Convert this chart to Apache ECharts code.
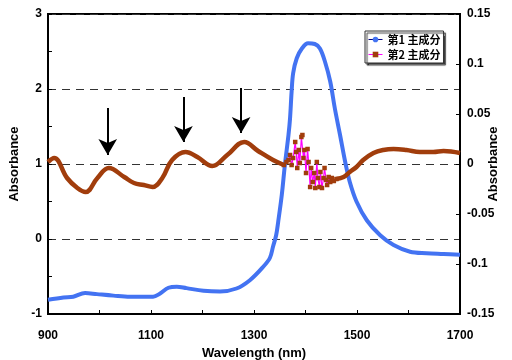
<!DOCTYPE html>
<html>
<head>
<meta charset="utf-8">
<script src="https://cdn.jsdelivr.net/npm/echarts@6/dist/echarts.min.js"></script>
<style>
html,body{margin:0;padding:0;background:#fff;}
#c{width:512px;height:360px;}
</style>
</head>
<body>
<div id="c"></div>
<script>
// ---- data ----
const wl1 = [900, 930, 949, 972, 995, 1027, 1059, 1104, 1117, 1134, 1150, 1169, 1202, 1234, 1266, 1292, 1318, 1331, 1337, 1343, 1347, 1354, 1360, 1367, 1370, 1373, 1376, 1383, 1393, 1405, 1418, 1428, 1438, 1448, 1457, 1467, 1477, 1486, 1499, 1519, 1545, 1571, 1603, 1635, 1668, 1700];
const pc1 = [-0.81, -0.78, -0.77, -0.72, -0.735, -0.755, -0.77, -0.77, -0.73, -0.65, -0.635, -0.655, -0.69, -0.70, -0.66, -0.55, -0.37, -0.25, -0.10, 0.05, 0.23, 0.59, 0.99, 1.39, 1.61, 1.96, 2.21, 2.41, 2.54, 2.61, 2.60, 2.54, 2.36, 2.10, 1.74, 1.39, 1.03, 0.76, 0.50, 0.25, 0.05, -0.08, -0.17, -0.19, -0.20, -0.21];

const wl2Left = [900, 912, 937, 957, 973, 996, 1018, 1048, 1067, 1086, 1103, 1122, 1141, 1167, 1190, 1219, 1248, 1281, 1308, 1337, 1358];
const pc2Left = [0.002, 0.006, -0.014, -0.024, -0.028, -0.014, -0.004, -0.013, -0.019, -0.021, -0.023, -0.014, 0.004, 0.012, 0.007, -0.002, 0.009, 0.022, 0.013, 0.004, -0.001];

const wl2Noise = [1358, 1363, 1367, 1370, 1373, 1376, 1380, 1382, 1384, 1387, 1389, 1392, 1394, 1396, 1398, 1401, 1404, 1406, 1409, 1411, 1414, 1417, 1419, 1422, 1424, 1427, 1429, 1432, 1435, 1437, 1440, 1442, 1445, 1448, 1451, 1455, 1460];
const pc2Noise = [-0.001, 0.002, 0.004, 0.009, -0.001, 0.006, 0.022, 0.012, -0.004, 0.014, 0.001, 0.027, 0.029, 0.006, 0.014, -0.009, 0.015, 0.002, -0.023, -0.004, -0.018, -0.009, -0.024, 0.002, -0.014, -0.023, -0.008, -0.024, -0.014, -0.004, -0.016, -0.021, -0.013, -0.018, -0.014, -0.017, -0.015];

const wl2Right = [1460, 1474, 1486, 1499, 1512, 1532, 1551, 1571, 1596, 1622, 1648, 1668, 1700];
const pc2Right = [-0.015, -0.013, -0.008, -0.003, 0.004, 0.011, 0.014, 0.015, 0.014, 0.012, 0.012, 0.013, 0.011];

const xTickLabels = [900, 1100, 1300, 1500, 1700];
const rightTickLabels = ['-0.15', '-0.1', '-0.05', '0', '0.05', '0.1', '0.15'];
const yAxisTitle = 'Absorbance';

// annotation arrows (wavelength, start value, tip value on right axis)
const arrowWl = [1016, 1163, 1275];
const arrowTop = [0.056, 0.067, 0.076];
const arrowTip = [0.009, 0.022, 0.031];

const seriesNames = ['第1 主成分', '第2 主成分'];

const zip = (a, b) => a.map((v, i) => [v, b[i]]);

const FONT = '"Liberation Sans", Arial, sans-serif';
const BLUE = '#4373F2';
const BROWN = '#A13D0C';

const chart = echarts.init(document.getElementById('c'), null, {renderer: 'canvas'});
chart.setOption({
  animation: false,
  backgroundColor: '#fff',
  grid: {left: 48, right: 52, top: 14, bottom: 46, outerBoundsMode: 'none', containLabel: false,
         show: true, borderColor: '#000', borderWidth: 2, backgroundColor: 'transparent'},
  graphic: [{
    type: 'text', x: 493, y: 164, rotation: Math.PI / 2,
    style: {text: yAxisTitle, fill: '#000', font: 'bold 13px "Liberation Sans", Arial, sans-serif',
            textAlign: 'center', textVerticalAlign: 'middle'}
  }],
  legend: {
    orient: 'vertical', left: 365, top: 31,
    padding: [3, 3, 3, 3], itemGap: 4, itemWidth: 14, itemHeight: 7,
    backgroundColor: '#fff', borderColor: '#333', borderWidth: 1,
    shadowColor: 'rgba(0,0,0,0.75)', shadowBlur: 1, shadowOffsetX: 2, shadowOffsetY: 2,
    textStyle: {fontSize: 11, fontWeight: 'bold', color: '#000', fontFamily: '"Noto Sans CJK SC", sans-serif'},
    data: [
      {name: seriesNames[0], itemStyle: {color: BLUE}, lineStyle: {color: '#000080', width: 1}},
      {name: seriesNames[1], itemStyle: {color: BROWN}, lineStyle: {color: '#FF00FF', width: 1}}
    ]
  },
  xAxis: {
    type: 'value', min: 900, max: 1700, interval: 100,
    name: 'Wavelength (nm)', nameLocation: 'middle', nameGap: 33,
    nameTextStyle: {fontSize: 13, fontWeight: 'bold', color: '#000', fontFamily: FONT},
    axisLine: {onZero: false, lineStyle: {color: '#000', width: 2}},
    axisTick: {inside: true, length: 4, lineStyle: {color: '#000', width: 1}},
    axisLabel: {
      fontSize: 12, fontWeight: 'bold', color: '#000', fontFamily: FONT, margin: 16,
      formatter: v => xTickLabels.includes(v) ? String(v) : ''
    },
    splitLine: {show: false}
  },
  yAxis: [
    {
      type: 'value', min: -1, max: 3, interval: 1, position: 'left',
      name: yAxisTitle, nameLocation: 'middle', nameGap: 25, nameRotate: 90,
      nameTextStyle: {fontSize: 13, fontWeight: 'bold', color: '#000', fontFamily: FONT},
      axisLine: {show: true, onZero: false, lineStyle: {color: '#000', width: 2}},
      axisTick: {show: true, inside: true, length: 4, lineStyle: {color: '#000'}},
      minorTick: {show: true, splitNumber: 2, length: 4, lineStyle: {color: '#000'}},
      axisLabel: {fontSize: 12, fontWeight: 'bold', color: '#000', fontFamily: FONT, margin: 6},
      splitLine: {show: true, lineStyle: {color: '#333', width: 1, type: [8, 6]}}
    },
    {
      type: 'value', min: -0.15, max: 0.15, interval: 0.05, position: 'right',
      axisLine: {show: true, onZero: false, lineStyle: {color: '#000', width: 2}},
      axisTick: {show: true, inside: true, length: 4, lineStyle: {color: '#000'}},
      axisLabel: {
        fontSize: 12, fontWeight: 'bold', color: '#000', fontFamily: FONT, margin: 7,
        formatter: v => rightTickLabels[Math.round((v + 0.15) / 0.05)]
      },
      splitLine: {show: false}
    }
  ],
  series: [
    {
      name: seriesNames[0], type: 'line', yAxisIndex: 0, smooth: 0.35,
      symbol: 'none', data: zip(wl1, pc1),
      lineStyle: {color: BLUE, width: 4}, itemStyle: {color: BLUE}, silent: true
    },
    {
      name: 'pc2-left', type: 'line', yAxisIndex: 1, smooth: 0.4,
      symbol: 'none', data: zip(wl2Left, pc2Left),
      lineStyle: {color: BROWN, width: 4.5}, silent: true,
      markLine: {
        silent: true, symbol: ['none', 'arrow'], symbolSize: [14, 16],
        label: {show: false},
        lineStyle: {color: '#000', width: 2, type: 'solid'},
        data: arrowWl.map((w, i) => [{coord: [w, arrowTop[i]]}, {coord: [w, arrowTip[i]]}])
      }
    },
    {
      name: 'pc2-right', type: 'line', yAxisIndex: 1, smooth: 0.4,
      symbol: 'none', data: zip(wl2Right, pc2Right),
      lineStyle: {color: BROWN, width: 4.5}, silent: true
    },
    {
      name: seriesNames[1], type: 'line', yAxisIndex: 1,
      symbol: 'rect', symbolSize: 4.5, showAllSymbol: true,
      data: zip(wl2Noise, pc2Noise),
      lineStyle: {color: '#FF00FF', width: 1.2}, itemStyle: {color: BROWN}, silent: true
    }
  ]
});
</script>
</body>
</html>
